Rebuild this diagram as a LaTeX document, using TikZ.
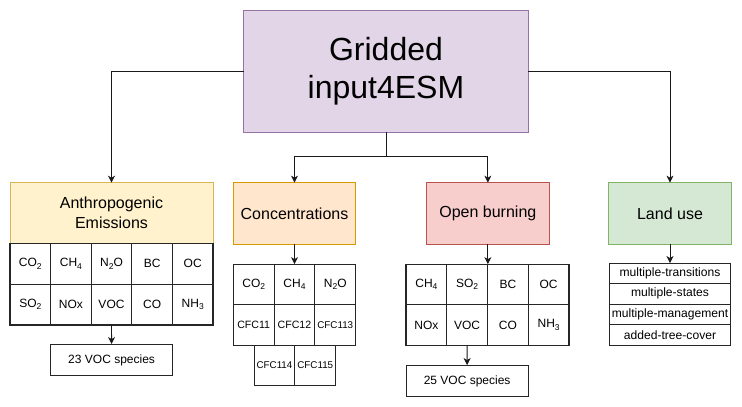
\documentclass[tikz,border=0pt]{standalone}
\usepackage{fontspec}
\setmainfont{Liberation Sans}
\usetikzlibrary{arrows.meta}
\definecolor{purF}{HTML}{E1D5E7}\definecolor{purD}{HTML}{9673A6}
\definecolor{yelF}{HTML}{FFF2CC}\definecolor{yelD}{HTML}{D6B656}
\definecolor{oraF}{HTML}{FFE6CC}\definecolor{oraD}{HTML}{D79B00}
\definecolor{redF}{HTML}{F8CECC}\definecolor{redD}{HTML}{B85450}
\definecolor{grnF}{HTML}{D5E8D4}\definecolor{grnD}{HTML}{82B366}
\newcommand{\sbs}[1]{\raisebox{-0.35ex}{\fontsize{8.5}{9}\selectfont #1}}
\begin{document}
\begin{tikzpicture}[x=1pt,y=-1pt,
  every node/.style={inner sep=0pt,outer sep=0pt},
  head/.style={line width=0.8pt,minimum width=122.4pt,minimum height=61.3pt,align=center,font=\fontsize{16}{19.5}\selectfont},
  cell/.style={draw=black!85,line width=1.1pt,fill=white,minimum width=40.7pt,minimum height=40.7pt,font=\fontsize{12}{14}\selectfont},
  cfcA/.style={cell,font=\fontsize{10.6}{12}\selectfont},
  cfcB/.style={cell,font=\fontsize{9.8}{12}\selectfont},
  vocbox/.style={draw=black!85,line width=0.8pt,fill=white,minimum width=122pt,minimum height=31.7pt,font=\fontsize{12}{14}\selectfont},
  listcell/.style={draw=black!85,line width=1pt,fill=white,minimum width=121.5pt,minimum height=20.5pt,font=\fontsize{12.1}{14}\selectfont},
  conn/.style={draw=black!90,line width=0.9pt},
  arr/.style={conn,-{Stealth[length=7pt,width=7pt,inset=2pt]}}]
\useasboundingbox[fill=white] (0,0) rectangle (742,407);
% main
\node[draw=purD,fill=purF,line width=0.9pt,minimum width=284.4pt,minimum height=122.3pt,align=center,font=\fontsize{32}{38.4}\selectfont] (main) at (386,71.2) {Gridded\\input4ESM};
% heads
\node[head,draw=yelD,fill=yelF,minimum width=203pt,minimum height=60.6pt] (anth) at (111.5,213) {Anthropogenic\\Emissions};
\node[head,draw=oraD,fill=oraF] (conc) at (294.5,213.3) {Concentrations};
\node[head,draw=redD,fill=redF] (open) at (487.85,213.3) {Open burning};
\node[head,draw=grnD,fill=grnF,minimum width=123.4pt] (land) at (670,213.3) {Land use};
% anthropogenic grid
\foreach \t [count=\i] in {CO\sbs{2},CH\sbs{4},N\sbs{2}O,BC,OC}
  \node[cell,minimum width=40.6pt] (a1\i) at ({10+40.6*(\i-0.5)},263.8) {\t};
\foreach \t [count=\i] in {SO\sbs{2},NOx,VOC,CO,NH\sbs{3}}
  \node[cell,minimum width=40.6pt] (a2\i) at ({10+40.6*(\i-0.5)},304.6) {\t};
\node[vocbox] (avoc) at (111.6,359.9) {23 VOC species};
% concentrations grid
\foreach \t [count=\i] in {CO\sbs{2},CH\sbs{4},N\sbs{2}O}
  \node[cell,minimum width=40.8pt] (c1\i) at ({233.3+40.8*(\i-0.5)},284.5) {\t};
\node[cfcA,minimum width=40.8pt] (c21) at (253.7,325) {CFC11};
\node[cfcA,minimum width=40.8pt] (c22) at (294.5,325) {CFC12};
\node[cfcB,minimum width=40.8pt] (c23) at (335.3,325) {CFC113};
\node[cfcB,minimum width=40.8pt] (c31) at (274.5,365.5) {CFC114};
\node[cfcB,minimum width=40.8pt] (c32) at (315.3,365.5) {CFC115};
% open burning grid
\foreach \t [count=\i] in {CH\sbs{4},SO\sbs{2},BC,OC}
  \node[cell,minimum width=40.75pt] (o1\i) at ({406+40.75*(\i-0.5)},284.5) {\t};
\foreach \t [count=\i] in {NOx,VOC,CO,NH\sbs{3}}
  \node[cell,minimum width=40.75pt] (o2\i) at ({406+40.75*(\i-0.5)},325) {\t};
\node[vocbox] (ovoc) at (467.1,380.9) {25 VOC species};
% land use list
\node[listcell] (l1) at (670,273.3) {multiple-transitions};
\node[listcell] (l2) at (670,293.8) {multiple-states};
\node[listcell] (l3) at (670,314.3) {multiple-management};
\node[listcell] (l4) at (670,334.8) {added-tree-cover};
% connectors
\draw[arr] (main.west) -| (anth.north);
\draw[arr] (main.east) -| (land.north);
\coordinate (j) at ([yshift=-24.4pt]main.south);
\draw[conn] (main.south) -- (j);
\draw[arr] (j) -| (conc.north);
\draw[arr] (j) -| (open.north);
\draw[arr] (a23.south) -- (avoc.north);
\draw[arr] (conc.south) -- (c12.north);
\coordinate (og) at (open.south |- o11.north);
\draw[arr] (open.south) -- (og);
\draw[arr] (o22.south) -- (ovoc.north);
\draw[arr] (land.south) -- (l1.north);
\end{tikzpicture}
\end{document}
